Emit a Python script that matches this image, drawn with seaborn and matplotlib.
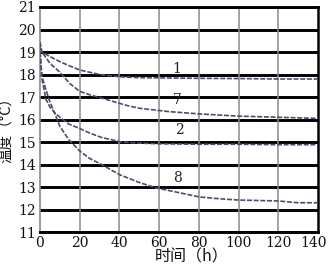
import matplotlib
matplotlib.use("Agg")
import matplotlib.pyplot as plt
import matplotlib.transforms as mtransforms
import seaborn as sns
import pandas as pd

sns.set_theme(style="white")
plt.rcParams['font.family'] = ['DejaVu Serif', 'Noto Sans CJK SC']

# curve data (time h, temperature °C)
t1 = [0, 1, 5, 10, 15, 20, 25, 30, 40, 50, 60, 80, 100, 120, 140]
y1 = [19.45, 19.0, 18.8, 18.57, 18.38, 18.2, 18.1, 18.0, 17.9, 17.86, 17.85, 17.83, 17.82, 17.8, 17.8]

t7 = [0, 1, 5, 10, 15, 20, 25, 29, 35, 43, 50, 65, 80, 100, 120, 140]
y7 = [19.2, 19.0, 18.5, 18.1, 17.6, 17.25, 17.1, 17.0, 16.85, 16.64, 16.5, 16.35, 16.25, 16.15, 16.1, 16.05]

t2 = [0, 1, 3, 5, 7.5, 10, 14.5, 20, 25, 31, 41, 50, 60, 80, 100, 120, 140]
y2 = [19.0, 17.8, 16.9, 16.55, 16.3, 16.1, 15.8, 15.6, 15.4, 15.2, 15.0, 14.95, 14.92, 14.9, 14.9, 14.88, 14.88]

t8 = [0, 1, 4.5, 10, 14.5, 20, 25, 31, 40, 50, 58.5, 70, 80, 90, 100, 110, 120, 130, 140]
y8 = [19.0, 17.9, 16.9, 15.7, 15.1, 14.6, 14.27, 14.0, 13.55, 13.2, 12.96, 12.75, 12.56, 12.48, 12.42, 12.4, 12.38, 12.3, 12.3]

labels = ["1", "7", "2", "8"]
label_x = [69, 69, 70, 69]
label_y = [18.25, 16.85, 15.55, 13.4]

x_ticks = [0, 20, 40, 60, 80, 100, 120, 140]
y_ticks = [11, 12, 13, 14, 15, 16, 17, 18, 19, 20, 21]

df = pd.concat([
    pd.DataFrame({"t": t1, "T": y1, "c": "1"}),
    pd.DataFrame({"t": t7, "T": y7, "c": "7"}),
    pd.DataFrame({"t": t2, "T": y2, "c": "2"}),
    pd.DataFrame({"t": t8, "T": y8, "c": "8"}),
])

fig = plt.figure(figsize=(3.28, 2.69), dpi=100)
ax = fig.add_axes([40/328, 1-232/269, 278/328, 225/269])

for yv in y_ticks:
    ax.axhline(yv, color="black", lw=2.1, zorder=1)
for xv in x_ticks[1:-1]:
    ax.axvline(xv, color="#8a8a8a", lw=1.1, zorder=1)

sns.lineplot(data=df, x="t", y="T", units="c", estimator=None, ax=ax,
             color="#56486a", lw=1.2, linestyle=(0, (3, 1)), zorder=3, sort=False)

for s, lx, ly in zip(labels, label_x, label_y):
    ax.text(lx, ly, s, ha="center", va="center", fontsize=10, color="#222222", zorder=4)

ax.set_xlim(0, 140)
ax.set_ylim(11, 21)
ax.set_xticks(x_ticks)
ax.set_yticks(y_ticks)
ax.tick_params(axis="both", length=0, labelsize=10, colors="#111111", pad=3)
ax.set_xlabel("时间（h）", fontsize=11.5, family=["Noto Sans CJK SC", "DejaVu Sans"], labelpad=0, color="#111111")
ax.set_ylabel("温度（°C）", fontsize=10.5, family=["Noto Sans CJK SC", "DejaVu Sans"], labelpad=0, color="#111111")
ax.xaxis.set_label_coords(0.545, -0.075)
ax.yaxis.set_label_coords(-0.098, 0.47)

# nudge last x tick label inward so it fits like the reference
last = ax.get_xticklabels()[-1]
last.set_transform(last.get_transform() + mtransforms.ScaledTranslation(-4/100, 0, fig.dpi_scale_trans))

for side in ["top", "bottom"]:
    ax.spines[side].set_color("black")
    ax.spines[side].set_linewidth(2.1)
ax.spines["right"].set_color("black")
ax.spines["right"].set_linewidth(1.8)
ax.spines["left"].set_color("#8a8a8a")
ax.spines["left"].set_linewidth(1.2)

fig.savefig("out.png", dpi=100)
